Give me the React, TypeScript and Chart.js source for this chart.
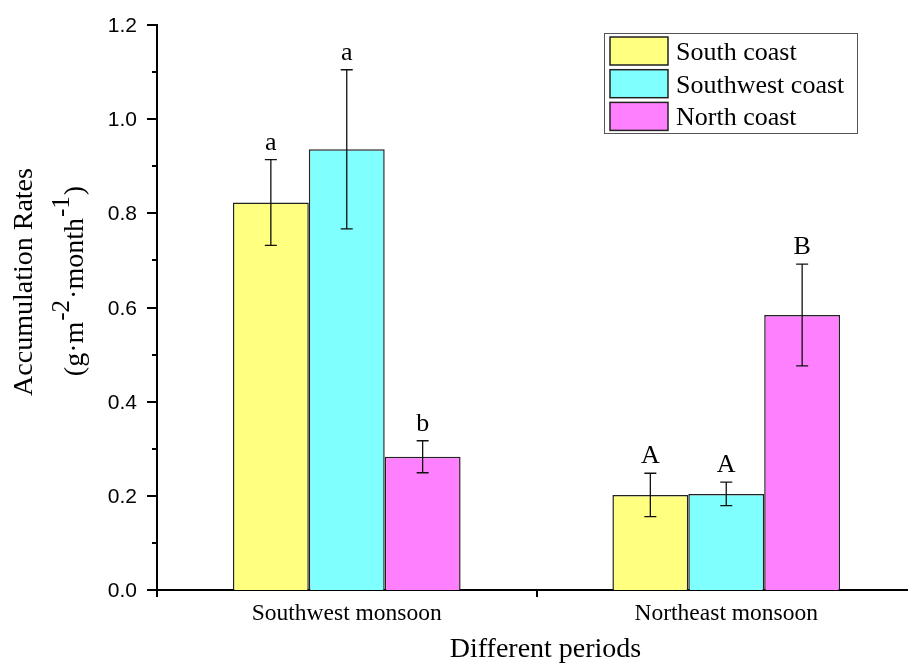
import React, { useEffect, useRef } from "react";
import { Chart, registerables } from "chart.js";

Chart.register(...registerables);

const categories = ["Southwest monsoon", "Northeast monsoon"];
const seriesNames = ["South coast", "Southwest coast", "North coast"];
const southValues = [0.823, 0.202];
const southErrors = [0.091, 0.046];
const southwestValues = [0.936, 0.204];
const southwestErrors = [0.169, 0.025];
const northValues = [0.283, 0.584];
const northErrors = [0.034, 0.108];
const southLetters = ["a", "A"];
const southwestLetters = ["a", "A"];
const northLetters = ["b", "B"];
const seriesColors = ["#FFFF80", "#80FFFF", "#FF80FF"];
const yTickLabels = ["0.0", "0.2", "0.4", "0.6", "0.8", "1.0", "1.2"];

const errorsList = [southErrors, southwestErrors, northErrors];
const lettersList = [southLetters, southwestLetters, northLetters];

const SERIF = "'Liberation Serif', 'Times New Roman', serif";
const SANS = "'Liberation Sans', Arial, sans-serif";

const decorPlugin = {
  id: "decor",
  afterDatasetsDraw(chart: any) {
    const ctx = chart.ctx as CanvasRenderingContext2D;
    const xs = chart.scales.x;
    const ys = chart.scales.y;
    const area = chart.chartArea;
    ctx.save();

    // error bars + letters
    chart.data.datasets.forEach((ds: any, di: number) => {
      const meta = chart.getDatasetMeta(di);
      meta.data.forEach((bar: any, i: number) => {
        const v = ds.data[i];
        const e = errorsList[di][i];
        const x = bar.x;
        const yt = ys.getPixelForValue(v + e);
        const yb = ys.getPixelForValue(v - e);
        ctx.strokeStyle = "#111";
        ctx.lineWidth = 1.3;
        ctx.beginPath();
        ctx.moveTo(x, yt);
        ctx.lineTo(x, yb);
        ctx.moveTo(x - 6, yt);
        ctx.lineTo(x + 6, yt);
        ctx.moveTo(x - 6, yb);
        ctx.lineTo(x + 6, yb);
        ctx.stroke();
        ctx.fillStyle = "#000";
        ctx.font = `26px ${SERIF}`;
        ctx.textAlign = "center";
        ctx.textBaseline = "alphabetic";
        ctx.fillText(lettersList[di][i], x, yt - 10);
      });
    });

    // y ticks
    ctx.strokeStyle = "#000";
    ctx.lineWidth = 2;
    for (let k = 0; k <= 12; k++) {
      const v = k / 10;
      const y = Math.round(ys.getPixelForValue(v));
      const major = k % 2 === 0;
      ctx.beginPath();
      ctx.moveTo(area.left - (major ? 10 : 5), y);
      ctx.lineTo(area.left, y);
      ctx.stroke();
      if (major) {
        ctx.fillStyle = "#000";
        ctx.font = `21px ${SANS}`;
        ctx.textAlign = "right";
        ctx.textBaseline = "middle";
        ctx.fillText(yTickLabels[k / 2], area.left - 20, y + 1);
      }
    }

    // x ticks at category boundaries
    const n = categories.length;
    const w = (area.right - area.left) / n;
    for (let k = 0; k <= n; k++) {
      const x = Math.round(area.left + k * w);
      ctx.beginPath();
      ctx.moveTo(x, area.bottom);
      ctx.lineTo(x, area.bottom + 7);
      ctx.stroke();
    }
    categories.forEach((c, i) => {
      const x = xs.getPixelForValue(i);
      ctx.fillStyle = "#000";
      ctx.font = `23.5px ${SERIF}`;
      ctx.textAlign = "center";
      ctx.textBaseline = "alphabetic";
      ctx.fillText(c, x, area.bottom + 30);
    });

    // x title
    ctx.font = `28px ${SERIF}`;
    ctx.textAlign = "center";
    ctx.fillText("Different periods", (area.left + area.right) / 2 + 9, 657);

    // y title
    ctx.save();
    ctx.translate(32, 282);
    ctx.rotate(-Math.PI / 2);
    ctx.font = `28px ${SERIF}`;
    ctx.textAlign = "center";
    ctx.textBaseline = "alphabetic";
    ctx.fillText("Accumulation Rates", 0, 0);
    ctx.restore();

    ctx.save();
    ctx.translate(83, 281);
    ctx.rotate(-Math.PI / 2);
    const segs = [
      { t: "(g·m", sup: false },
      { t: "-2", sup: true },
      { t: "·month", sup: false },
      { t: "-1", sup: true },
      { t: ")", sup: false },
    ];
    const fontFor = (s: any) => (s.sup ? `25px ${SERIF}` : `28px ${SERIF}`);
    let total = 0;
    segs.forEach((s) => {
      ctx.font = fontFor(s);
      total += ctx.measureText(s.t).width + (s.sup ? 2 : 0);
    });
    let cx = -total / 2;
    ctx.textAlign = "left";
    segs.forEach((s) => {
      ctx.font = fontFor(s);
      ctx.fillText(s.t, cx + (s.sup ? 1 : 0), s.sup ? -14 : 0);
      cx += ctx.measureText(s.t).width + (s.sup ? 2 : 0);
    });
    ctx.restore();

    // legend
    ctx.strokeStyle = "#555";
    ctx.lineWidth = 1;
    ctx.strokeRect(604.5, 33.5, 253, 100);
    seriesNames.forEach((name, i) => {
      const y = 37 + i * 32.7;
      ctx.fillStyle = seriesColors[i];
      ctx.fillRect(610, y, 58, 28);
      ctx.strokeStyle = "#222";
      ctx.lineWidth = 1.5;
      ctx.strokeRect(610, y, 58, 28);
      ctx.fillStyle = "#000";
      ctx.font = `26px ${SERIF}`;
      ctx.textAlign = "left";
      ctx.textBaseline = "alphabetic";
      ctx.fillText(name, 676, y + 23);
    });

    ctx.restore();
  },
};

export default function App() {
  const ref = useRef<HTMLCanvasElement | null>(null);
  useEffect(() => {
    if (!ref.current) return;
    const chart = new Chart(ref.current, {
      type: "bar",
      data: {
        labels: categories,
        datasets: [
          { label: seriesNames[0], data: southValues, backgroundColor: seriesColors[0] },
          { label: seriesNames[1], data: southwestValues, backgroundColor: seriesColors[1] },
          { label: seriesNames[2], data: northValues, backgroundColor: seriesColors[2] },
        ].map((d) => ({
          ...d,
          borderColor: "#222",
          borderWidth: 1.5,
          categoryPercentage: 0.6,
          barPercentage: 1.0,
        })),
      },
      options: {
        animation: false,
        responsive: false,
        devicePixelRatio: 1,
        layout: { padding: { top: 25, right: 0, bottom: 0, left: 0 } },
        plugins: { legend: { display: false }, tooltip: { enabled: false } },
        scales: {
          x: {
            type: "category",
            offset: true,
            grid: { display: false },
            border: { display: true, color: "#000", width: 2 },
            ticks: { display: false },
            afterFit: (s: any) => {
              s.height = 77;
            },
          },
          y: {
            min: 0,
            max: 1.2,
            grid: { display: false },
            border: { display: true, color: "#000", width: 2 },
            ticks: { display: false, stepSize: 0.1 },
            afterFit: (s: any) => {
              s.width = 157;
            },
          },
        },
      },
      plugins: [decorPlugin],
    } as any);
    return () => chart.destroy();
  }, []);
  return (
    <div
      style={{
        position: "absolute",
        left: 0,
        top: 0,
        width: 908,
        height: 667,
        overflow: "hidden",
        background: "#fff",
      }}
    >
      <canvas ref={ref} width={916} height={667} style={{ width: 916, height: 667, display: "block" }} />
    </div>
  );
}
